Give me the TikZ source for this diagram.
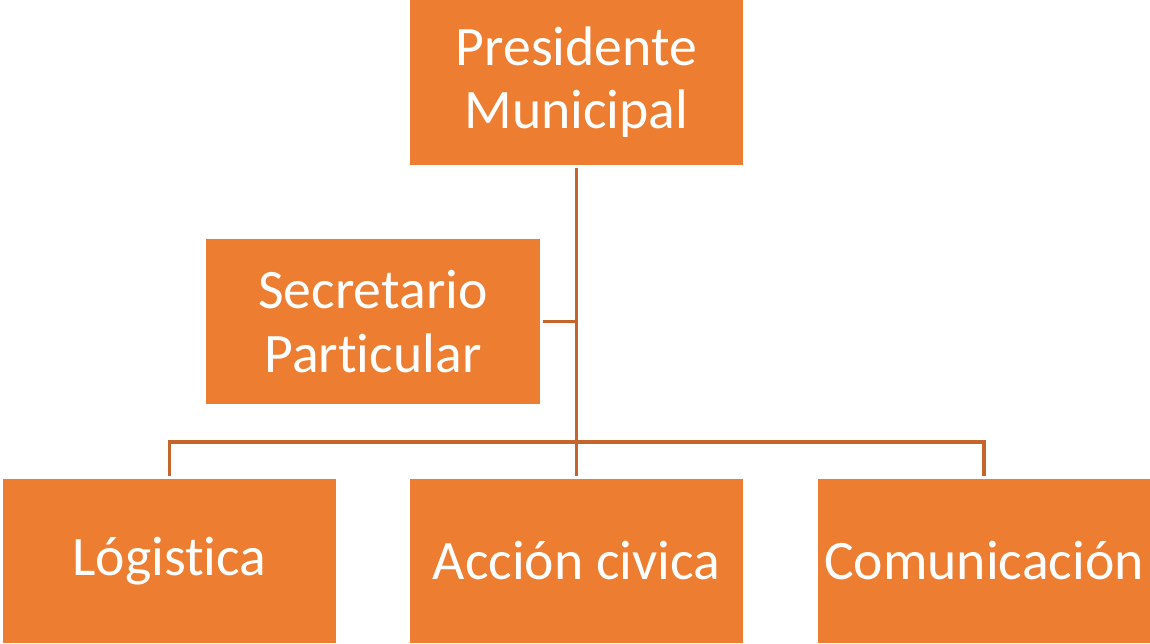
\documentclass[tikz,border=0pt]{standalone}
\usepackage{fontspec}
\setmainfont[Ligatures={NoCommon}]{Carlito}
\definecolor{naranja}{HTML}{ED7D31}
\definecolor{linea}{HTML}{C5652B}

\begin{document}
\begin{tikzpicture}[
    cargo/.style={fill=naranja, text=white, minimum width=6.66cm, minimum height=3.3cm,
        align=center, inner sep=0pt, font=\fontsize{31.7}{36}\selectfont},
    enlace/.style={draw=linea, line width=0.065cm}
    ]
    \useasboundingbox (0,0) rectangle (23,-12.86);
    \node[cargo] (pres) at (11.53,-1.65) {Presidente\\Municipal};
    \node[cargo, minimum width=6.68cm] (secr) at (7.46,-6.43) {Secretario\\Particular};
    \node[cargo, minimum height=3.28cm] (log) at (3.39,-11.22) {Lógistica};
    \node[cargo, minimum height=3.28cm] (acc) at (11.53,-11.22) {Acción civica};
    \node[cargo, minimum height=3.28cm] (com) at (19.68,-11.22) {Comunicación};
    \coordinate (nudo) at (11.53,-8.84);
    \draw[enlace] ([yshift=-0.05cm]pres.south) -- (nudo);
    \draw[enlace] ([xshift=0.05cm]secr.east) -- (secr.east -| nudo);
    \draw[enlace] ([yshift=0.05cm]log.north) |- (nudo) -| ([yshift=0.05cm]com.north);
    \draw[enlace] (nudo) -- ([yshift=0.05cm]acc.north);
\end{tikzpicture}
\end{document}
